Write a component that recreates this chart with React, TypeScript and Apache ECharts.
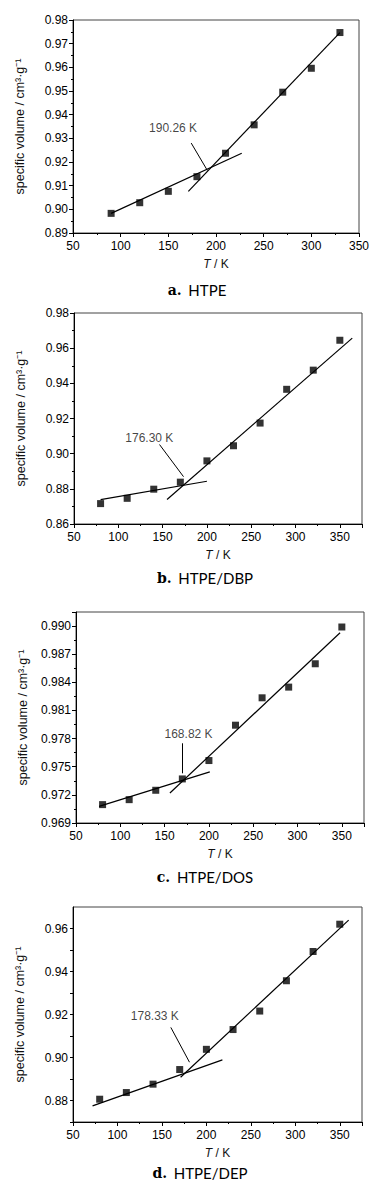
import React, { useEffect, useRef } from "react";
import * as echarts from "echarts";

// ---- data ----
const tempA = [90, 120, 150, 180, 210, 240, 270, 300, 330];
const volA = [0.8983, 0.9028, 0.9076, 0.9138, 0.9237, 0.9357, 0.9495, 0.9596, 0.9747];

const tempBCD = [80, 110, 140, 170, 200, 230, 260, 290, 320, 350];
const volB = [0.8716, 0.8746, 0.8798, 0.8838, 0.8959, 0.9045, 0.9174, 0.9366, 0.9475, 0.9645];
const volC = [0.97096, 0.97149, 0.97249, 0.9737, 0.97566, 0.97943, 0.98235, 0.98349, 0.98598, 0.9899];
const volD = [0.8806, 0.8837, 0.8876, 0.8944, 0.9038, 0.913, 0.9216, 0.9357, 0.9493, 0.962];

// fitted lines (glassy / rubbery), endpoints [T, v]
const lowA = [[90, 0.8983], [227, 0.9237]];
const highA = [[171, 0.9076], [330, 0.9747]];
const lowB = [[80, 0.8739], [200, 0.8843]];
const highB = [[155, 0.8739], [364, 0.9657]];
const lowC = [[76, 0.97078], [201, 0.97445]];
const highC = [[156, 0.9722], [348, 0.98929]];
const lowD = [[72, 0.8775], [218, 0.8989]];
const highD = [[171, 0.8908], [360, 0.9639]];

// Tg annotations: label, label position, arrow start, arrow end
const tgLabels = ["190.26 K", "176.30 K", "168.82 K", "178.33 K"];
const tgLabelPos = [[155, 0.9343], [135, 0.9091], [177, 0.97854], [142, 0.9195]];
const tgArrowFrom = [[174, 0.928], [146.5, 0.9052], [170, 0.9775], [160, 0.914]];
const tgArrowTo = [[191, 0.9164], [173.6, 0.8869], [170, 0.9743], [181, 0.8978]];

const captionLetters = ["a.", "b.", "c.", "d."];
const captionNames = ["HTPE", "HTPE/DBP", "HTPE/DOS", "HTPE/DEP"];

const yTitle = "specific volume / cm³·g⁻¹";
const xTitle = "{i|T} / K";

// ---- layout ----
const FONT = "'Liberation Sans', Arial, sans-serif";
const panels = [
  { grid: { left: 73, top: 20, width: 286, height: 213 }, xMax: 350, yMin: 0.89, yMax: 0.98, yInt: 0.01, dec: 2, mode: "minor", temps: tempA, vols: volA, low: lowA, high: highA, cap: [197, 290] },
  { grid: { left: 74, top: 313, width: 288, height: 211 }, xMax: 375, yMin: 0.86, yMax: 0.98, yInt: 0.02, dec: 2, mode: "minor", temps: tempBCD, vols: volB, low: lowB, high: highB, cap: [205, 578] },
  { grid: { left: 76, top: 612, width: 288, height: 211 }, xMax: 375, yMin: 0.969, yMax: 0.9915, yInt: 0.003, dec: 3, mode: "minor", temps: tempBCD, vols: volC, low: lowC, high: highC, cap: [205, 877] },
  { grid: { left: 73, top: 907, width: 289, height: 215 }, xMax: 375, yMin: 0.87, yMax: 0.97, yInt: 0.01, dec: 2, mode: "even", temps: tempBCD, vols: volD, low: lowD, high: highD, cap: [200, 1173] },
];

export default function App() {
  const ref = useRef<HTMLDivElement>(null);
  useEffect(() => {
    if (!ref.current) return;
    const chart = echarts.init(ref.current, undefined, { renderer: "svg" });
    const grids: any[] = [];
    const xAxes: any[] = [];
    const yAxes: any[] = [];
    const series: any[] = [];
    const graphics: any[] = [];
    const black = "#000";

    panels.forEach((p, i) => {
      grids.push({ ...p.grid, show: true, borderColor: "#444", borderWidth: 1, backgroundColor: "transparent", containLabel: false });
      xAxes.push({
        type: "value", gridIndex: i, min: 50, max: p.xMax, interval: 50,
        axisLine: { show: true, onZero: false, lineStyle: { color: black, width: 1 } },
        axisTick: { show: true, length: 4, lineStyle: { color: black } },
        minorTick: { show: true, splitNumber: 2, length: 2, lineStyle: { color: black } },
        splitLine: { show: false },
        axisLabel: { color: black, fontSize: 12, fontFamily: FONT, margin: 7, showMaxLabel: p.xMax === 350 },
        name: xTitle, nameLocation: "middle", nameGap: 25,
        nameTextStyle: { color: "#111", fontSize: 12, fontFamily: FONT, rich: { i: { fontStyle: "italic", fontSize: 12, fontFamily: FONT, color: "#111" } } },
      });
      const even = p.mode === "even";
      yAxes.push({
        type: "value", gridIndex: i, min: p.yMin, max: p.yMax, interval: p.yInt,
        axisLine: { show: true, onZero: false, lineStyle: { color: black, width: 1 } },
        axisTick: { show: true, length: even ? 3 : 4, lineStyle: { color: black } },
        minorTick: { show: !even, splitNumber: 2, length: 2, lineStyle: { color: black } },
        splitLine: { show: false },
        axisLabel: {
          color: black, fontSize: 12, fontFamily: FONT, margin: 5,
          showMaxLabel: p.yMax === 0.98,
          formatter: (v: number) => {
            if (even && Math.round(v * 100) % 2 === 1) return "";
            return v.toFixed(p.dec);
          },
        },
        name: yTitle, nameLocation: "middle", nameGap: 47, nameRotate: 90,
        nameTextStyle: { color: "#111", fontSize: 12.5, fontFamily: FONT },
      });
      [p.low, p.high].forEach((seg) => {
        series.push({
          type: "line", xAxisIndex: i, yAxisIndex: i, data: seg, symbol: "none", showSymbol: false,
          lineStyle: { color: black, width: 1.2 }, z: 2, silent: true,
        });
      });
      series.push({
        type: "scatter", xAxisIndex: i, yAxisIndex: i,
        data: p.temps.map((t, k) => [t, p.vols[k]]),
        symbol: "rect", symbolSize: 7, itemStyle: { color: black }, z: 3,
      });
      series.push({
        type: "scatter", xAxisIndex: i, yAxisIndex: i,
        data: [tgLabelPos[i]], symbolSize: 1, itemStyle: { color: "transparent" },
        label: { show: true, position: "inside", formatter: tgLabels[i], color: "#111", fontSize: 12, fontFamily: FONT },
        markLine: {
          silent: true, symbol: ["none", "arrow"], symbolSize: [0, 6],
          lineStyle: { color: black, width: 1, type: "solid" }, label: { show: false },
          data: [[{ coord: tgArrowFrom[i] }, { coord: tgArrowTo[i] }]],
        },
        z: 4,
      });
      graphics.push({
        type: "text", x: p.cap[0], y: p.cap[1],
        style: {
          text: `{b|${captionLetters[i]}}  {n|${captionNames[i]}}`,
          align: "center", verticalAlign: "middle",
          rich: {
            b: { fontFamily: "'DejaVu Serif', 'Liberation Serif', serif", fontWeight: "bold", fontSize: 14, fill: "#000" },
            n: { fontFamily: "Lato, 'Open Sans', sans-serif", fontSize: 15, fill: "#000" },
          },
        },
      });
    });

    chart.setOption({
      animation: false,
      backgroundColor: "#fff",
      grid: grids,
      xAxis: xAxes,
      yAxis: yAxes,
      series,
      graphic: graphics,
    });
    return () => chart.dispose();
  }, []);
  return <div ref={ref} style={{ position: "absolute", left: 0, top: 0, width: 381, height: 1186 }} />;
}
